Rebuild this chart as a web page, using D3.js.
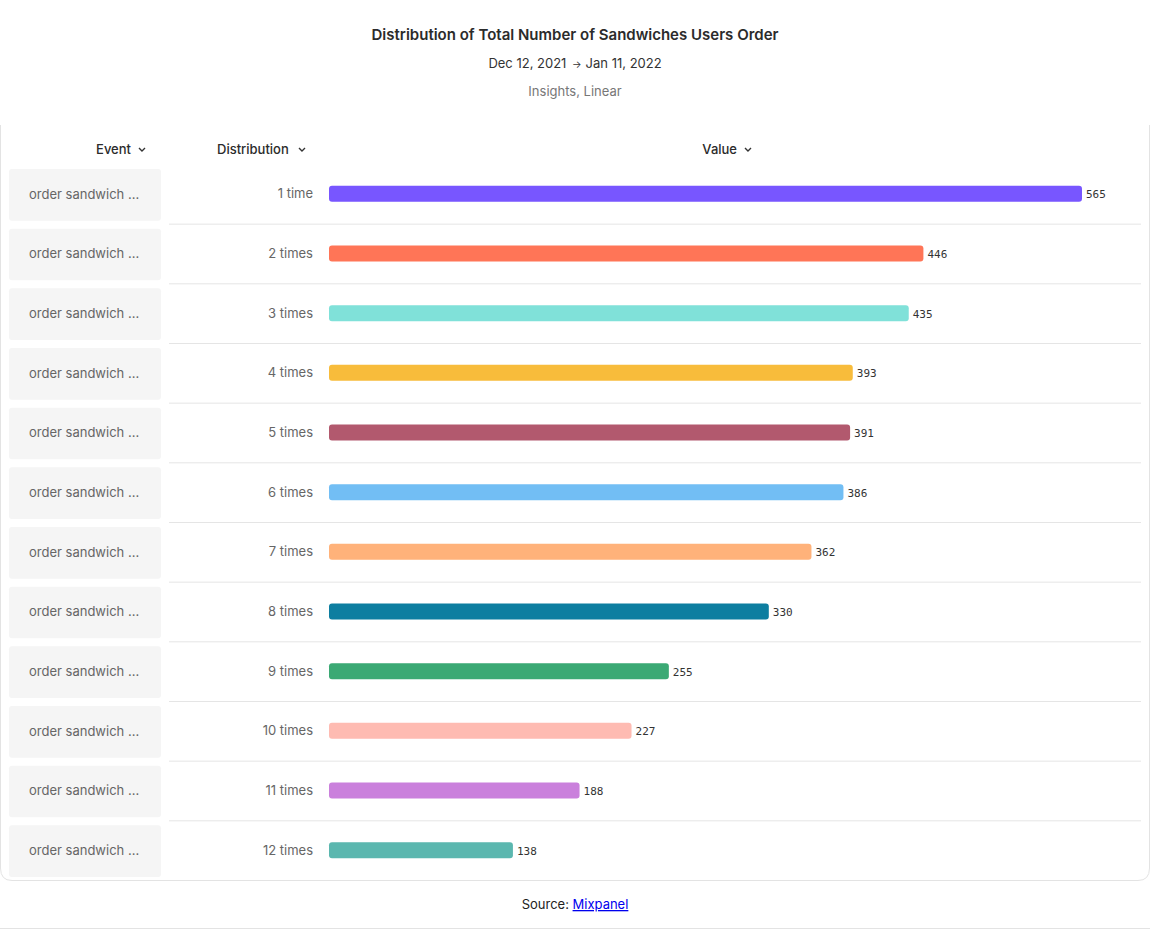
<!DOCTYPE html>
<html>
<head>
<meta charset="utf-8">
<script src="https://cdn.jsdelivr.net/npm/d3@7"></script>
<style>
  html, body { margin: 0; padding: 0; background: #fff; }
  svg { display: block; font-family: Inter, "Noto Sans", sans-serif; }
</style>
</head>
<body>
<svg id="chart" width="1150" height="929"></svg>
<script>
const categories = ["1 time","2 times","3 times","4 times","5 times","6 times","7 times","8 times","9 times","10 times","11 times","12 times"];
const values = [565, 446, 435, 393, 391, 386, 362, 330, 255, 227, 188, 138];
const eventLabels = Array(12).fill("order sandwich ...");
const colors = ["#7856FF","#FF7557","#80E1D9","#F8BC3B","#B2596E","#72BEF4","#FFB27A","#0D7EA0","#3BA974","#FEBBB2","#CA80DC","#5BB7AF"];
const title = "Distribution of Total Number of Sandwiches Users Order";
const subtitle = "Dec 12, 2021 \u2192 Jan 11, 2022";
const subtitle2 = "Insights, Linear";
const headers = ["Event", "Distribution", "Value"];

const svg = d3.select("#chart");
const W = 1150;

// Titles
svg.append("text").attr("x", W/2).attr("y", 40).attr("text-anchor","middle")
  .attr("font-size", 15).attr("font-weight", 600).attr("fill", "#2b2b2b").text(title);
const sub = svg.append("text").attr("x", W/2).attr("y", 68).attr("text-anchor","middle")
  .attr("font-size", 13).attr("fill", "#333");
sub.append("tspan").text("Dec 12, 2021 ");
sub.append("tspan").attr("font-size", 10).attr("dx", 2).text("\u2192");
sub.append("tspan").attr("dx", 4).text("Jan 11, 2022");
svg.append("text").attr("x", W/2).attr("y", 96).attr("text-anchor","middle")
  .attr("font-size", 13).attr("fill", "#777").text(subtitle2);

// Card outline (top clipped)
svg.append("path")
  .attr("d", "M0.5,125 L0.5,868 Q0.5,880.5 12,880.5 L1138,880.5 Q1149.5,880.5 1149.5,868 L1149.5,125")
  .attr("fill", "none").attr("stroke", "#e3e3e3").attr("stroke-width", 1);

// Footer line
svg.append("line").attr("x1",0).attr("x2",W).attr("y1",928.5).attr("y2",928.5)
  .attr("stroke","#e3e3e3");

// Header
const chevron = (g, x, y) => g.append("path")
  .attr("d", `M${x-3},${y-1.5} L${x},${y+1.5} L${x+3},${y-1.5}`)
  .attr("fill","none").attr("stroke","#333").attr("stroke-width",1.4);

const hdr = svg.append("g").attr("font-size", 13).attr("fill","#2b2b2b").attr("font-weight",500);
hdr.append("text").attr("x", 131).attr("y", 154).attr("text-anchor","end").text(headers[0]);
chevron(hdr, 142, 149.5);
hdr.append("text").attr("x", 217).attr("y", 154).text(headers[1]);
chevron(hdr, 302, 149.5);
hdr.append("text").attr("x", 737).attr("y", 154).attr("text-anchor","end").text(headers[2]);
chevron(hdr, 748, 149.5);

// Scales
const y = d3.scaleBand().domain(categories).range([164, 880]).paddingInner(0).paddingOuter(0);
const x = d3.scaleLinear().domain([0, d3.max(values)]).range([329, 1082]);

const rows = svg.append("g").selectAll("g").data(categories).join("g")
  .attr("transform", d => `translate(0,${y(d)})`);
const bw = y.bandwidth();

rows.append("rect").attr("x", 9).attr("y", 5).attr("width", 152).attr("height", bw - 8)
  .attr("rx", 3).attr("fill", "#f5f5f5");
rows.append("text").attr("x", 29).attr("y", bw/2 + 5).attr("font-size", 13).attr("fill","#666")
  .text((d,i) => eventLabels[i]);
rows.filter((d,i) => i < categories.length - 1)
  .append("line").attr("x1", 169).attr("x2", 1141).attr("y1", bw).attr("y2", bw)
  .attr("transform","translate(0,0.5)")
  .attr("stroke", "#e5e5e5");
rows.append("text").attr("x", 313).attr("y", bw/2 + 4.5).attr("text-anchor","end")
  .attr("font-size", 13).attr("fill","#666").text(d => d);
rows.append("rect").attr("x", x(0)).attr("y", bw/2 - 8).attr("height", 16)
  .attr("width", (d,i) => x(values[i]) - x(0)).attr("rx", 3)
  .attr("fill", (d,i) => colors[i]);
rows.append("text").attr("x", (d,i) => x(values[i]) + 4).attr("y", bw/2 + 4.5)
  .attr("font-family", "'DejaVu Sans Mono', monospace").attr("font-size", 11).attr("fill","#333")
  .text((d,i) => values[i]);

// Source
const src = svg.append("text").attr("x", W/2).attr("y", 909).attr("text-anchor","middle")
  .attr("font-size", 13).attr("fill","#222");
src.append("tspan").text("Source: ");
src.append("tspan").attr("fill","#0000EE").attr("text-decoration","underline").text("Mixpanel");
</script>
</body>
</html>
